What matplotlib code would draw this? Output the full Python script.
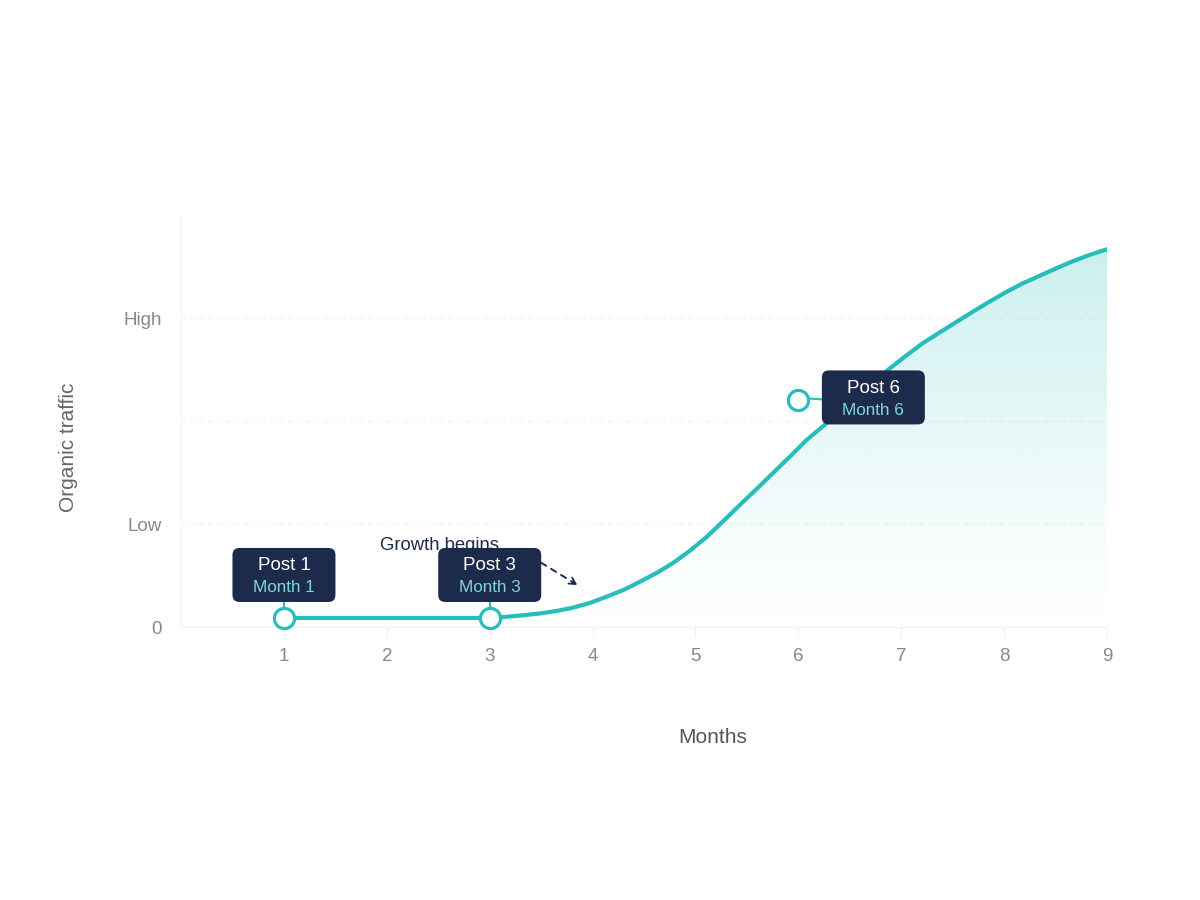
import matplotlib
matplotlib.use("Agg")
import matplotlib.pyplot as plt
import numpy as np
from matplotlib.patches import FancyBboxPatch, Polygon

plt.rcParams['font.family'] = ['Liberation Sans', 'DejaVu Sans']

# traffic curve (0-100 index)
months = [1, 2, 3, 3.1, 3.3, 3.49, 3.65, 3.81, 3.98, 4.14, 4.3, 4.46, 4.62,
          4.78, 4.95, 5.11, 5.27, 5.43, 5.59, 5.75, 5.92, 6.08, 6.31, 6.6,
          6.89, 7.05, 7.21, 7.38, 7.54, 7.7, 7.86, 8.02, 8.18, 8.35, 8.51,
          8.67, 8.83, 9.0]
traffic = [2.2, 2.2, 2.2, 2.35, 2.8, 3.3, 3.9, 4.7, 5.9, 7.4, 9.0, 11.0, 13.1,
           15.5, 18.6, 21.9, 25.7, 29.6, 33.4, 37.3, 41.4, 45.4, 50.2, 56.6,
           62.8, 65.9, 68.9, 71.6, 74.1, 76.6, 79.0, 81.3, 83.4, 85.3, 87.1,
           88.8, 90.3, 91.7]

post_names = ["Post 1", "Post 3", "Post 6"]
post_months = [1, 3, 6]
post_levels = [2.2, 2.2, 55.0]

x_ticks = [1, 2, 3, 4, 5, 6, 7, 8, 9]
y_ticks = [0, 25, 75]
y_labels = ["0", "Low", "High"]

teal = "#26bdbb"
navy = "#1c2a4b"
light_teal = "#7fd6da"

fig = plt.figure(figsize=(12, 9), dpi=100)
ax = fig.add_axes([0.1509, 0.3033, 0.7716, 0.4578])

# gradient fill under curve
grad = np.linspace(0, 1, 256).reshape(-1, 1)
rgba = np.zeros((256, 1, 4))
rgba[..., 0] = 38 / 255
rgba[..., 1] = 189 / 255
rgba[..., 2] = 187 / 255
rgba[..., 3] = 0.24 * grad ** 1.2
img = ax.imshow(rgba, extent=[1, 9, 0, max(traffic)], origin="lower",
                aspect="auto", zorder=1, interpolation="bilinear")
poly = Polygon(list(zip(months, traffic)) + [(9, 0), (1, 0)], closed=True,
               facecolor="none", edgecolor="none", transform=ax.transData)
ax.add_patch(poly)
img.set_clip_path(poly)
ax.set_xlim(0, 9)
ax.set_ylim(0, 100)

ax.plot(months, traffic, color=teal, lw=3.0, solid_capstyle="round",
        solid_joinstyle="round", zorder=3)

# grid and axes
for yv in [25, 50, 75]:
    ax.axhline(yv, color="#f2f2f2", lw=0.8, ls=(0, (4, 4)), zorder=0)
for s in ["top", "right"]:
    ax.spines[s].set_visible(False)
ax.spines["left"].set_color("#f4f4f4")
ax.spines["bottom"].set_color("#f2f2f2")
ax.set_xticks(x_ticks)
ax.set_xticklabels([str(t) for t in x_ticks])
ax.set_yticks(y_ticks)
ax.set_yticklabels(y_labels)
ax.tick_params(axis="x", length=7, color="#eeeeee", labelcolor="#888888",
               labelsize=13.5, pad=8)
ax.tick_params(axis="y", length=0, labelcolor="#888888", labelsize=13.5,
               pad=14)

fig.text(0.0567, 0.503, "Organic traffic", rotation=90, ha="center",
         va="center", fontsize=15, color="#666666")
fig.text(0.594, 0.181, "Months", ha="center", va="center", fontsize=15,
         color="#555555")

# annotation text and dashed arrow
ax.text(2.51, 19.7, "Growth begins", fontsize=13.3, color=navy, ha="center",
        va="center", zorder=4)
ax.annotate("", xy=(3.82, 10.7), xytext=(3.50, 15.6),
            arrowprops=dict(arrowstyle="-", color=navy, lw=1.4,
                            ls=(0, (3, 3)), shrinkA=0, shrinkB=0),
            zorder=4)
ax.annotate("", xy=(3.85, 10.2), xytext=(3.80, 11.0),
            arrowprops=dict(arrowstyle="->,head_length=0.45,head_width=0.25",
                            color=navy, lw=1.3, shrinkA=0, shrinkB=0),
            zorder=4)

# post markers with label boxes (offsets in pixels)
box_offsets = [(0, 43), (0, 43), (75, 3)]
fig.canvas.draw()
for name, m, lev, (dx, dy) in zip(post_names, post_months, post_levels,
                                  box_offsets):
    px, py = ax.transData.transform((m, lev))
    cx, cy = px + dx, py + dy
    w, h = 103, 54
    if dx == 0:
        ax.plot([px, px], [py + 10, cy - h / 2], color=teal, lw=1.5,
                transform=None, zorder=5)
    else:
        ax.plot([px + 10, cx - w / 2], [py + 2, cy - 2], color=teal, lw=1.5,
                transform=None, zorder=5)
    box = FancyBboxPatch((cx - w / 2 + 7, cy - h / 2 + 7), w - 14, h - 14,
                         boxstyle="round,pad=7", facecolor=navy,
                         edgecolor="none", transform=None, zorder=6)
    ax.add_artist(box)
    fig.text(cx / 1200, (cy + 9) / 900, name, ha="center", va="center",
             fontsize=13.5, color="white", zorder=7)
    fig.text(cx / 1200, (cy - 13) / 900, "Month %d" % m, ha="center",
             va="center", fontsize=12.3, color=light_teal, zorder=7)
    ax.plot([m], [lev], marker="o", ms=14.5, mfc="white", mec=teal,
            mew=2.3, zorder=8, clip_on=False)

fig.savefig("out.png", dpi=100)
